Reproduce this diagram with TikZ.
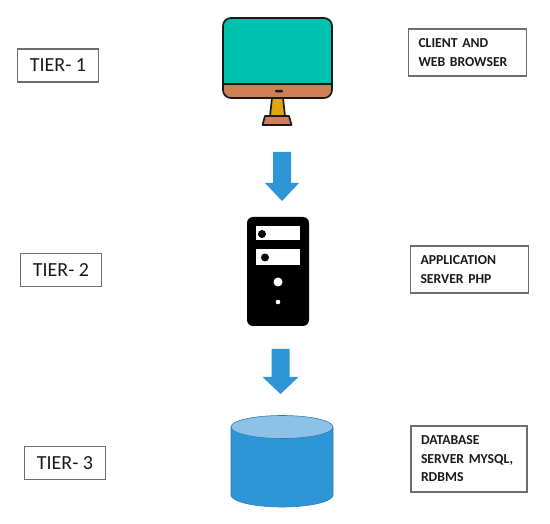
\documentclass[tikz,border=0pt]{standalone}
\usepackage{fontspec}
\setmainfont{Carlito}
\usetikzlibrary{positioning}
\definecolor{Ink}{HTML}{1A1A1A}
\definecolor{Edge}{HTML}{6E6E6E}
\definecolor{Screen}{HTML}{00C1AE}
\definecolor{Clay}{HTML}{CE7F57}
\definecolor{Gold}{HTML}{E2A512}
\definecolor{Flow}{HTML}{2E96D6}
\definecolor{FlowTop}{HTML}{8DC1E8}
\tikzset{
  tierbox/.style={draw=Edge,line width=1.4pt,minimum width=81pt,minimum height=33pt,inner sep=0pt,font=\fontsize{20}{22}\selectfont,text=Ink},
  rolebox/.style={draw=Edge,line width=1.4pt,inner xsep=10pt,inner ysep=0pt,align=left,font=\fontsize{13.7}{18.5}\selectfont\bfseries,text=Ink},
}
\begin{document}
\begin{tikzpicture}[x=1pt,y=-1pt]
\useasboundingbox (0,0) rectangle (550,524);
\foreach \x/\y/\s in {58/65.5/1,61/270/2,65/463/3} {\node[tierbox] (tier\s) at (\x,\y) {TIER- \s};}
\node[rolebox,minimum height=47pt,text width=98pt] (client) at (467.5,52.5) {CLIENT AND\\WEB BROWSER};
\node[rolebox,minimum height=47pt,text width=98pt] (app) at (469.5,269.5) {APPLICATION\\SERVER PHP};
\node[rolebox,minimum height=66pt,text width=96pt] (db) at (469,459) {DATABASE\\SERVER MYSQL,\\RDBMS};
% monitor
\fill[Clay,rounded corners=8pt] (223,18) rectangle (332,98);
\begin{scope}
\clip (220,15) rectangle (335,84);
\fill[Screen,rounded corners=8pt] (223,18) rectangle (332,98);
\end{scope}
\draw[Ink,line width=1.7pt,rounded corners=8pt] (223,18) rectangle (332,98);
\draw[Ink,line width=1.7pt] (223,84) -- (332,84);
\draw[Ink,line width=1.7pt,fill=Gold] (272,98) -- (283,98) -- (285,116) -- (270,116) -- cycle;
\draw[Ink,line width=1.7pt,fill=Clay,line join=round] (265,116) -- (289,116) -- (291.5,125) -- (262.5,125) -- cycle;
\fill[Ink,rounded corners=1pt] (275,90) rectangle (283,92.5);
% block arrows
\foreach \x/\ya/\yb/\yc/\w/\h in {282/152/183/201/9/17,280.5/349/377/394/9/18} {\fill[Flow] (\x-\w,\ya) -- (\x+\w,\ya) -- (\x+\w,\yb) -- (\x+\h,\yb) -- (\x,\yc) -- (\x-\h,\yb) -- (\x-\w,\yb) -- cycle;}
% server
\fill[black,rounded corners=6pt] (247,217) rectangle (309,326);
\fill[white] (256,226) rectangle (300,240);
\fill[white] (256,249) rectangle (300,265);
\fill[black] (262,234) circle[radius=4];
\fill[black] (265,257.5) circle[radius=4];
\fill[white] (278,282) circle[radius=4.5];
\fill[white] (278,302) circle[radius=2.3];
% database
\draw[Flow!85!black,line width=0.6pt,fill=Flow] (231,427) -- (231,495) arc[start angle=180,end angle=360,x radius=51,y radius=-12] -- (333,427) -- cycle;
\draw[Flow!85!black,line width=0.6pt,fill=FlowTop] (282,427) ellipse[x radius=51,y radius=11.5];
\end{tikzpicture}
\end{document}
